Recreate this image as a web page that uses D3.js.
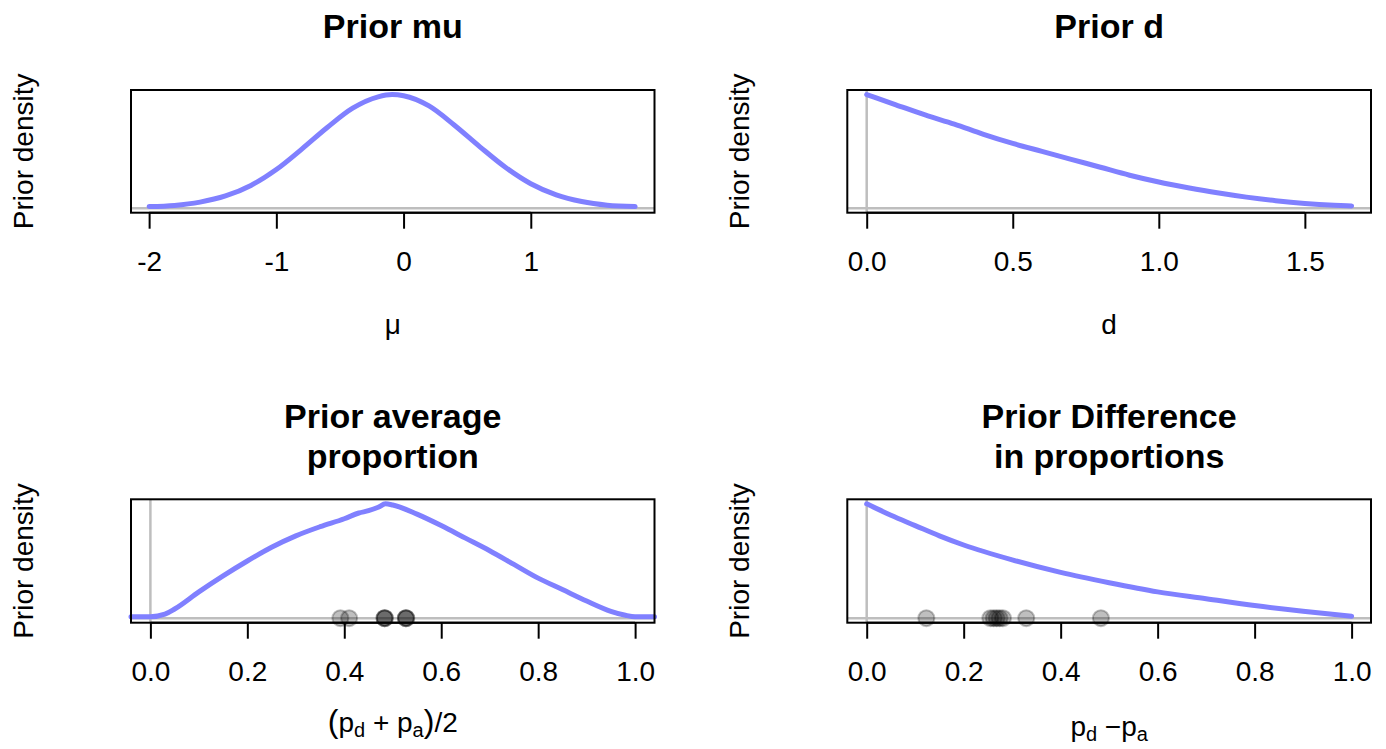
<!DOCTYPE html>
<html>
<head>
<meta charset="utf-8">
<script src="https://cdn.jsdelivr.net/npm/d3@7"></script>
<style>
  body { margin: 0; background: #fff; }
  svg { display: block; font-family: "Liberation Sans", Arial, Helvetica, sans-serif; }
</style>
</head>
<body>
<svg width="1386" height="749"></svg>
<script>
// prior mu (density relative to the peak)
var muX    = [-2.0, -1.8, -1.6, -1.4, -1.2, -1.0, -0.8, -0.6, -0.4, -0.2, -0.09, 0.0, 0.2, 0.4, 0.6, 0.8, 1.0, 1.2, 1.4, 1.6, 1.82]
var muDens = [0.014, 0.024, 0.053, 0.107, 0.2, 0.34, 0.52, 0.71, 0.88, 0.98, 1.0, 0.99, 0.9, 0.73, 0.54, 0.36, 0.215, 0.117, 0.058, 0.026, 0.014]

// prior d
var dX    = [0, 0.1, 0.2, 0.3, 0.4, 0.5, 0.6, 0.7, 0.8, 0.9, 1.0, 1.1, 1.2, 1.3, 1.4, 1.5, 1.6, 1.66]
var dDens = [1.0, 0.91, 0.82, 0.74, 0.65, 0.57, 0.5, 0.43, 0.36, 0.29, 0.23, 0.18, 0.135, 0.097, 0.066, 0.042, 0.026, 0.02]

// prior average proportion
var avgX    = [-0.04, 0, 0.03, 0.05, 0.1, 0.15, 0.2, 0.25, 0.3, 0.35, 0.4, 0.43, 0.45, 0.47, 0.485, 0.5, 0.55, 0.6, 0.65, 0.7, 0.75, 0.8, 0.85, 0.9, 0.95, 0.98, 1.0, 1.04]
var avgDens = [0.012, 0.012, 0.035, 0.08, 0.23, 0.37, 0.5, 0.62, 0.72, 0.8, 0.87, 0.92, 0.94, 0.97, 1.0, 0.99, 0.91, 0.81, 0.7, 0.59, 0.47, 0.35, 0.25, 0.15, 0.06, 0.025, 0.012, 0.012]
var avgObs  = [0.392, 0.41, 0.483, 0.483, 0.484, 0.527, 0.527, 0.528]

// prior difference in proportions
var diffX    = [0, 0.05, 0.1, 0.15, 0.2, 0.3, 0.4, 0.5, 0.6, 0.7, 0.8, 0.9, 1.0]
var diffDens = [1.0, 0.9, 0.81, 0.72, 0.64, 0.51, 0.4, 0.31, 0.23, 0.17, 0.11, 0.06, 0.017]
var diffObs  = [0.123, 0.255, 0.262, 0.268, 0.274, 0.281, 0.329, 0.483]

var muTicks = [-2, -1, 0, 1]
var dTicks = [0, 0.5, 1.0, 1.5]
var propTicks = [0, 0.2, 0.4, 0.6, 0.8, 1.0]

var cols = [[131, 654.5], [847.3, 1371]]
var rows = [[90, 212.7], [499.3, 622.7]]

var svg = d3.select('svg')

function drawPanel(p) {
  var left = cols[p.col][0], right = cols[p.col][1]
  var top = rows[p.row][0], bottom = rows[p.row][1]

  var xmin = d3.min(p.xdom), xmax = d3.max(p.xdom), xpad = (xmax - xmin) * 0.04
  var x = d3.scaleLinear().domain([xmin - xpad, xmax + xpad]).range([left, right])
  var ymax = d3.max(p.dens)
  var y = d3.scaleLinear().domain([-0.04 * ymax, 1.04 * ymax]).range([bottom, top])

  var g = svg.append('g')

  // reference lines
  g.append('line')
      .attr('x1', left).attr('x2', right)
      .attr('y1', y(0)).attr('y2', y(0))
      .attr('stroke', '#bebebe').attr('stroke-width', 2.5)
  if (p.vline) {
    g.append('line')
        .attr('x1', x(0)).attr('x2', x(0))
        .attr('y1', top).attr('y2', bottom)
        .attr('stroke', '#bebebe').attr('stroke-width', 2.5)
  }

  var line = d3.line()
      .x(function(d) { return x(d[0]) })
      .y(function(d) { return y(d[1]) })
      .curve(d3.curveMonotoneX)

  g.append('path')
      .datum(d3.zip(p.xs, p.dens))
      .attr('d', line)
      .attr('fill', 'none')
      .attr('stroke', '#8080ff')
      .attr('stroke-width', 5)
      .attr('stroke-linejoin', 'round')
      .attr('stroke-linecap', 'round')

  if (p.obs) {
    g.selectAll('circle')
      .data(p.obs)
      .enter().append('circle')
        .attr('cx', function(d) { return x(d) })
        .attr('cy', y(0))
        .attr('r', 8)
        .attr('fill', 'rgba(0,0,0,0.25)')
        .attr('stroke', 'rgba(0,0,0,0.25)')
        .attr('stroke-width', 2)
  }

  g.append('rect')
      .attr('x', left).attr('y', top)
      .attr('width', right - left).attr('height', bottom - top)
      .attr('fill', 'none').attr('stroke', '#000').attr('stroke-width', 2)

  var axis = d3.axisBottom(x)
      .tickValues(p.ticks)
      .tickFormat(p.fmt)
      .tickSize(16)
      .tickPadding(22)

  var ax = g.append('g')
      .attr('transform', 'translate(0,' + bottom + ')')
      .call(axis)
  ax.select('.domain').remove()
  ax.selectAll('.tick line').attr('stroke', '#000').attr('stroke-width', 2)
  ax.selectAll('.tick text')
      .attr('fill', '#000')
      .style('font-size', '28px')
      .style('font-family', '"Liberation Sans", Arial, sans-serif')
  ax.append('line')
      .attr('x1', x(p.ticks[0])).attr('x2', x(p.ticks[p.ticks.length - 1]))
      .attr('stroke', '#000').attr('stroke-width', 2)

  var cx = (left + right) / 2
  var title = g.append('text')
      .attr('text-anchor', 'middle')
      .style('font-size', '34px')
      .style('font-weight', 'bold')
  p.title.forEach(function(t, i) {
    title.append('tspan')
        .attr('x', cx)
        .attr('y', p.titleY + i * 40)
        .text(t)
  })

  g.append('text')
      .attr('transform', 'translate(' + (left - 98) + ',' + ((top + bottom) / 2) + ') rotate(-90)')
      .attr('text-anchor', 'middle')
      .style('font-size', '28px')
      .text('Prior density')

  var lab = g.append('text')
      .attr('x', cx)
      .attr('y', bottom + p.labDy)
      .attr('text-anchor', 'middle')
      .style('font-size', '28px')
  p.xlab.forEach(function(part) {
    var t = lab.append('tspan').text(part.t)
    if (part.sub) t.style('font-size', '20px').attr('dy', 5)
    if (part.up) t.attr('dy', -5)
    if (part.dx) t.attr('dx', part.dx)
    if (part.big) t.style('font-size', '32px')
  })
}

var fmt1 = d3.format('.1f')

drawPanel({ col: 0, row: 0, xs: muX, dens: muDens, xdom: [-1.99, 1.82], ticks: muTicks,
  fmt: function(d) { return String(d) }, vline: false,
  title: ['Prior mu'], titleY: 38, labDy: 121,
  xlab: [{ t: '\u03bc' }] })

drawPanel({ col: 1, row: 0, xs: dX, dens: dDens, xdom: [0, 1.66], ticks: dTicks,
  fmt: fmt1, vline: true,
  title: ['Prior d'], titleY: 38, labDy: 121,
  xlab: [{ t: 'd' }] })

drawPanel({ col: 0, row: 1, xs: avgX, dens: avgDens, xdom: [0, 1], ticks: propTicks,
  fmt: fmt1, vline: true, obs: avgObs,
  title: ['Prior average', 'proportion'], titleY: 428, labDy: 109,
  xlab: [{ t: '(', big: true }, { t: 'p' }, { t: 'd', sub: true }, { t: ' + ', up: true }, { t: 'p' }, { t: 'a', sub: true }, { t: ')', big: true, up: true }, { t: '/2' }] })

drawPanel({ col: 1, row: 1, xs: diffX, dens: diffDens, xdom: [0, 1], ticks: propTicks,
  fmt: fmt1, vline: true, obs: diffObs,
  title: ['Prior Difference', 'in proportions'], titleY: 428, labDy: 113,
  xlab: [{ t: 'p' }, { t: 'd', sub: true }, { t: ' \u2212', up: true }, { t: 'p' }, { t: 'a', sub: true }] })
</script>
</body>
</html>
